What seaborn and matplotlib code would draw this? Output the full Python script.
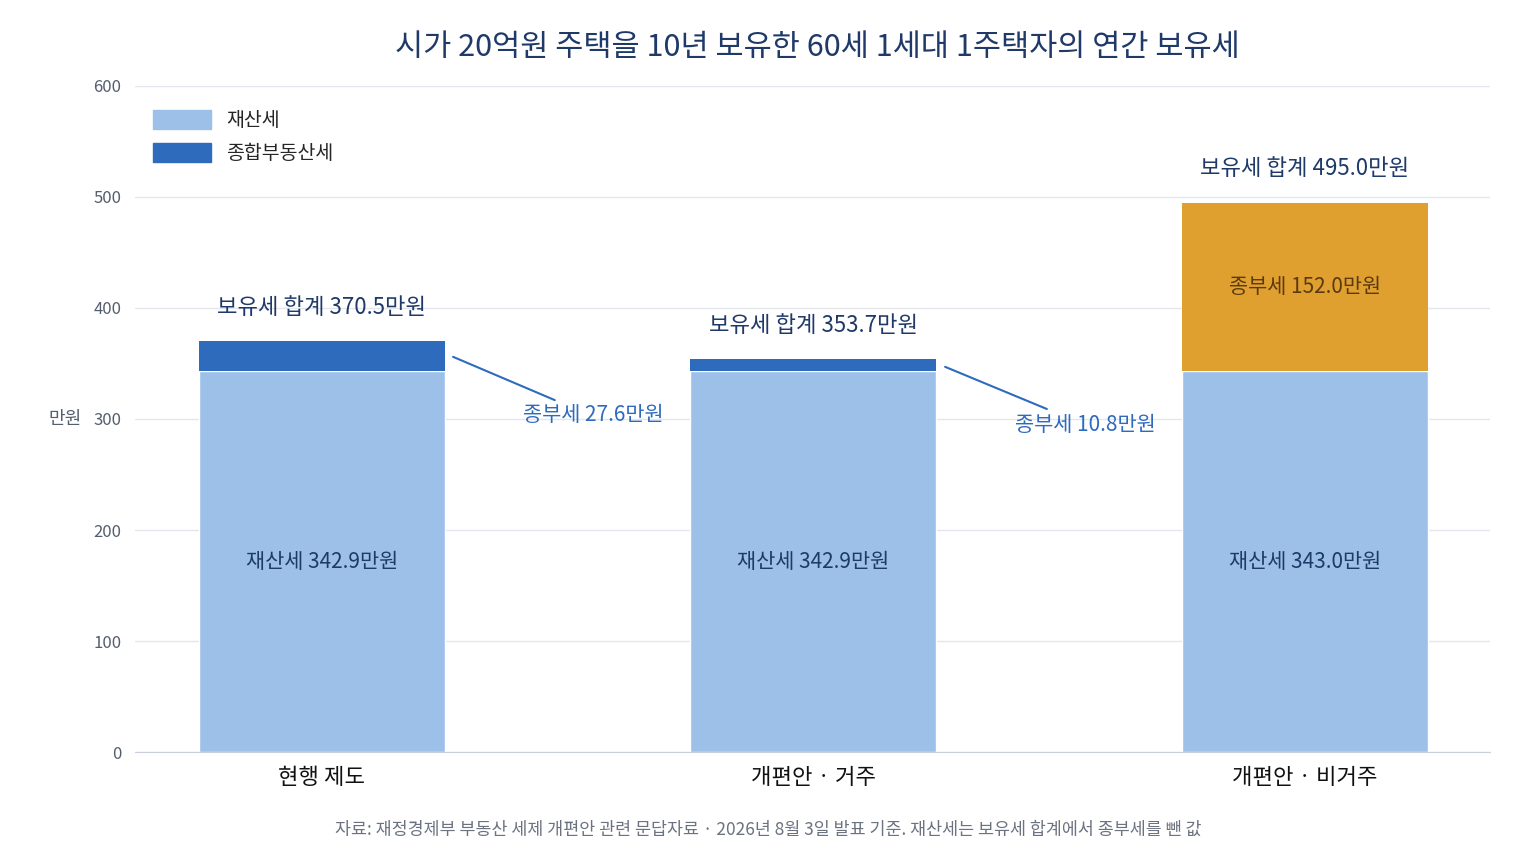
import matplotlib
matplotlib.use("Agg")
import matplotlib.pyplot as plt
from matplotlib.patches import Patch
import seaborn as sns
import pandas as pd

categories = ["현행 제도", "개편안 · 거주", "개편안 · 비거주"]
property_tax = [342.9, 342.9, 343.0]
comp_tax = [27.6, 10.8, 152.0]
totals = [370.5, 353.7, 495.0]

sns.set_style("white")
plt.rcParams["font.family"] = ["Noto Sans CJK KR", "DejaVu Sans"]

C_LIGHT = "#9dc0e8"
C_DARK = "#2e6bbd"
C_ORANGE = "#e0a030"
NAVY = "#1f3a68"
GREY = "#555e6e"

df = pd.DataFrame({"cat": categories, "prop": property_tax, "comp": comp_tax})

fig = plt.figure(figsize=(15.36, 8.64), dpi=100)
ax = fig.add_axes([0.0879, 0.1296, 0.882, 0.7709])

sns.barplot(data=df, x="cat", y="prop", color=C_LIGHT, width=0.5, saturation=1, ax=ax)
ax.bar(range(3), comp_tax, bottom=property_tax, width=0.5,
       color=[C_DARK, C_DARK, C_ORANGE], linewidth=0)

ax.set_ylim(0, 600)
ax.set_xlim(-0.38, 2.376)
ax.set_yticks(range(0, 601, 100))
ax.yaxis.grid(True, color="#e3e6ec", linewidth=1)
ax.set_axisbelow(True)
for s in ["top", "right", "left"]:
    ax.spines[s].set_visible(False)
ax.spines["bottom"].set_color("#c9d0dc")
ax.tick_params(axis="y", length=6, color="#9aa3b0", labelsize=12, labelcolor=GREY, pad=4)
ax.tick_params(axis="x", length=0, labelsize=16, labelcolor="#111111", pad=10)
ax.set_xlabel("")
ax.set_ylabel("만원", rotation=0, fontsize=13, color=GREY, labelpad=20, va="center")

for i in range(3):
    ax.text(i, property_tax[i] / 2, f"재산세 {property_tax[i]:.1f}만원",
            ha="center", va="center", fontsize=15, color=NAVY)
    ax.text(i, totals[i] + 20, f"보유세 합계 {totals[i]:.1f}만원",
            ha="center", va="bottom", fontsize=16, color=NAVY)
ax.text(2, property_tax[2] + comp_tax[2] / 2, f"종부세 {comp_tax[2]:.1f}만원",
        ha="center", va="center", fontsize=15, color="#5a3a10")

callouts = [((0.267, 356), (0.474, 317), (0.553, 304)),
            ((1.268, 347), (1.475, 309), (1.554, 295))]
for i, (p0, p1, pt) in enumerate(callouts):
    ax.plot([p0[0], p1[0]], [p0[1], p1[1]], color=C_DARK, linewidth=1.5)
    ax.text(pt[0], pt[1], f"종부세 {comp_tax[i]:.1f}만원", ha="center", va="center",
            fontsize=15, color=C_DARK)

ax.legend(handles=[Patch(color=C_LIGHT, label="재산세"), Patch(color=C_DARK, label="종합부동산세")],
          loc="upper left", bbox_to_anchor=(0.0, 0.99), frameon=False, fontsize=14,
          handlelength=3, handleheight=1.1, labelspacing=0.6)

fig.text(0.532, 0.945, "시가 20억원 주택을 10년 보유한 60세 1세대 1주택자의 연간 보유세",
         ha="center", va="center", fontsize=22, color=NAVY)
fig.text(0.5, 0.04, "자료: 재정경제부 부동산 세제 개편안 관련 문답자료 · 2026년 8월 3일 발표 기준. 재산세는 보유세 합계에서 종부세를 뺀 값",
         ha="center", va="center", fontsize=12.5, color="#6b7280")

fig.savefig("out.png", dpi=100)
